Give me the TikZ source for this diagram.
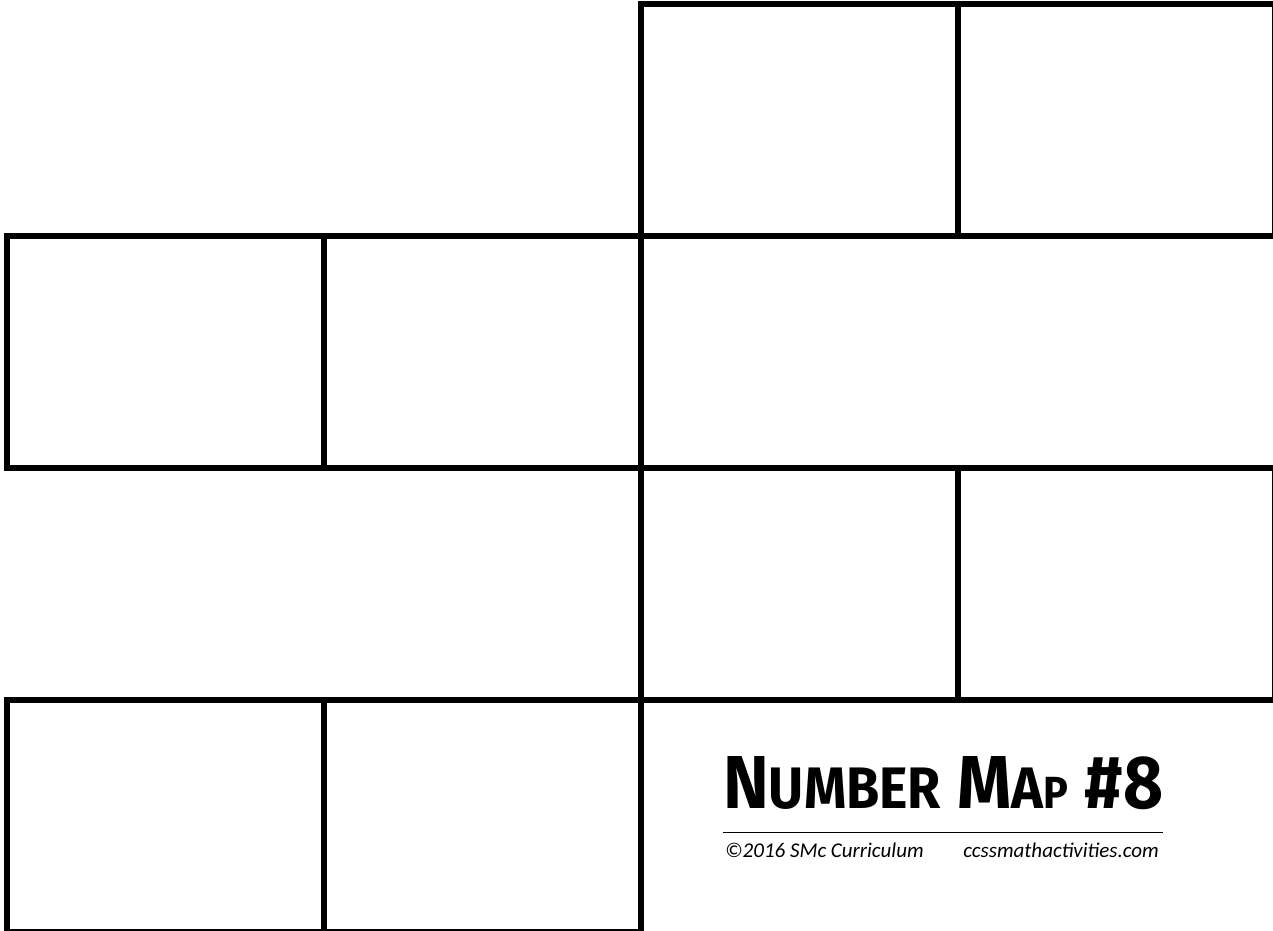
\documentclass[tikz,border=0pt]{standalone}
\usepackage{fontspec}
\usepackage{graphicx}
\usetikzlibrary{positioning}
\newfontfamily\titlefont{Fira Sans}
\newfontfamily\notefont{Carlito}

\begin{document}
\begin{tikzpicture}[
  x=1pt,y=-1pt,
  cellbox/.style={draw,line width=6pt,minimum width=317pt,minimum height=232pt,inner sep=0pt,outer sep=0pt},
  note/.style={inner sep=0pt,font=\notefont\itshape\fontsize{21}{24}\selectfont}
]%
  \useasboundingbox (0,0) rectangle (1273,930);
  \clip (0,0) rectangle (1273,930);
  % top row
  \node[cellbox,anchor=north west] (r1c3) at (641,4) {};
  \node[cellbox,right=0pt of r1c3] (r1c4) {};
  % second row
  \node[cellbox,anchor=north east] (r2c2) at (r1c3.south west) {};
  \node[cellbox,left=0pt of r2c2] (r2c1) {};
  % third row
  \node[cellbox,anchor=north west] (r3c3) at (r2c2.south east) {};
  \node[cellbox,right=0pt of r3c3] (r3c4) {};
  % bottom row
  \node[cellbox,anchor=north east] (r4c2) at (r3c3.south west) {};
  \node[cellbox,left=0pt of r4c2] (r4c1) {};

  % label
  \node[inner sep=0pt,anchor=base west] (title) at (723,808)
    {\resizebox{440pt}{52pt}{\titlefont\bfseries N\scalebox{.78}{UMBER} M\scalebox{.78}{A}\scalebox{.6}{P} \#8}};
  \coordinate (ruleL) at (723,832.7);
  \coordinate (ruleR) at (1163,832.7);
  \draw[line width=1.3pt] (ruleL) -- (ruleR);
  \node[note,anchor=base west] (copy) at (725,857.7) {©2016 SMc Curriculum};
  \node[note,anchor=base east] (site) at (1159,857.7) {ccssmathactivities.com};
\end{tikzpicture}
\end{document}
